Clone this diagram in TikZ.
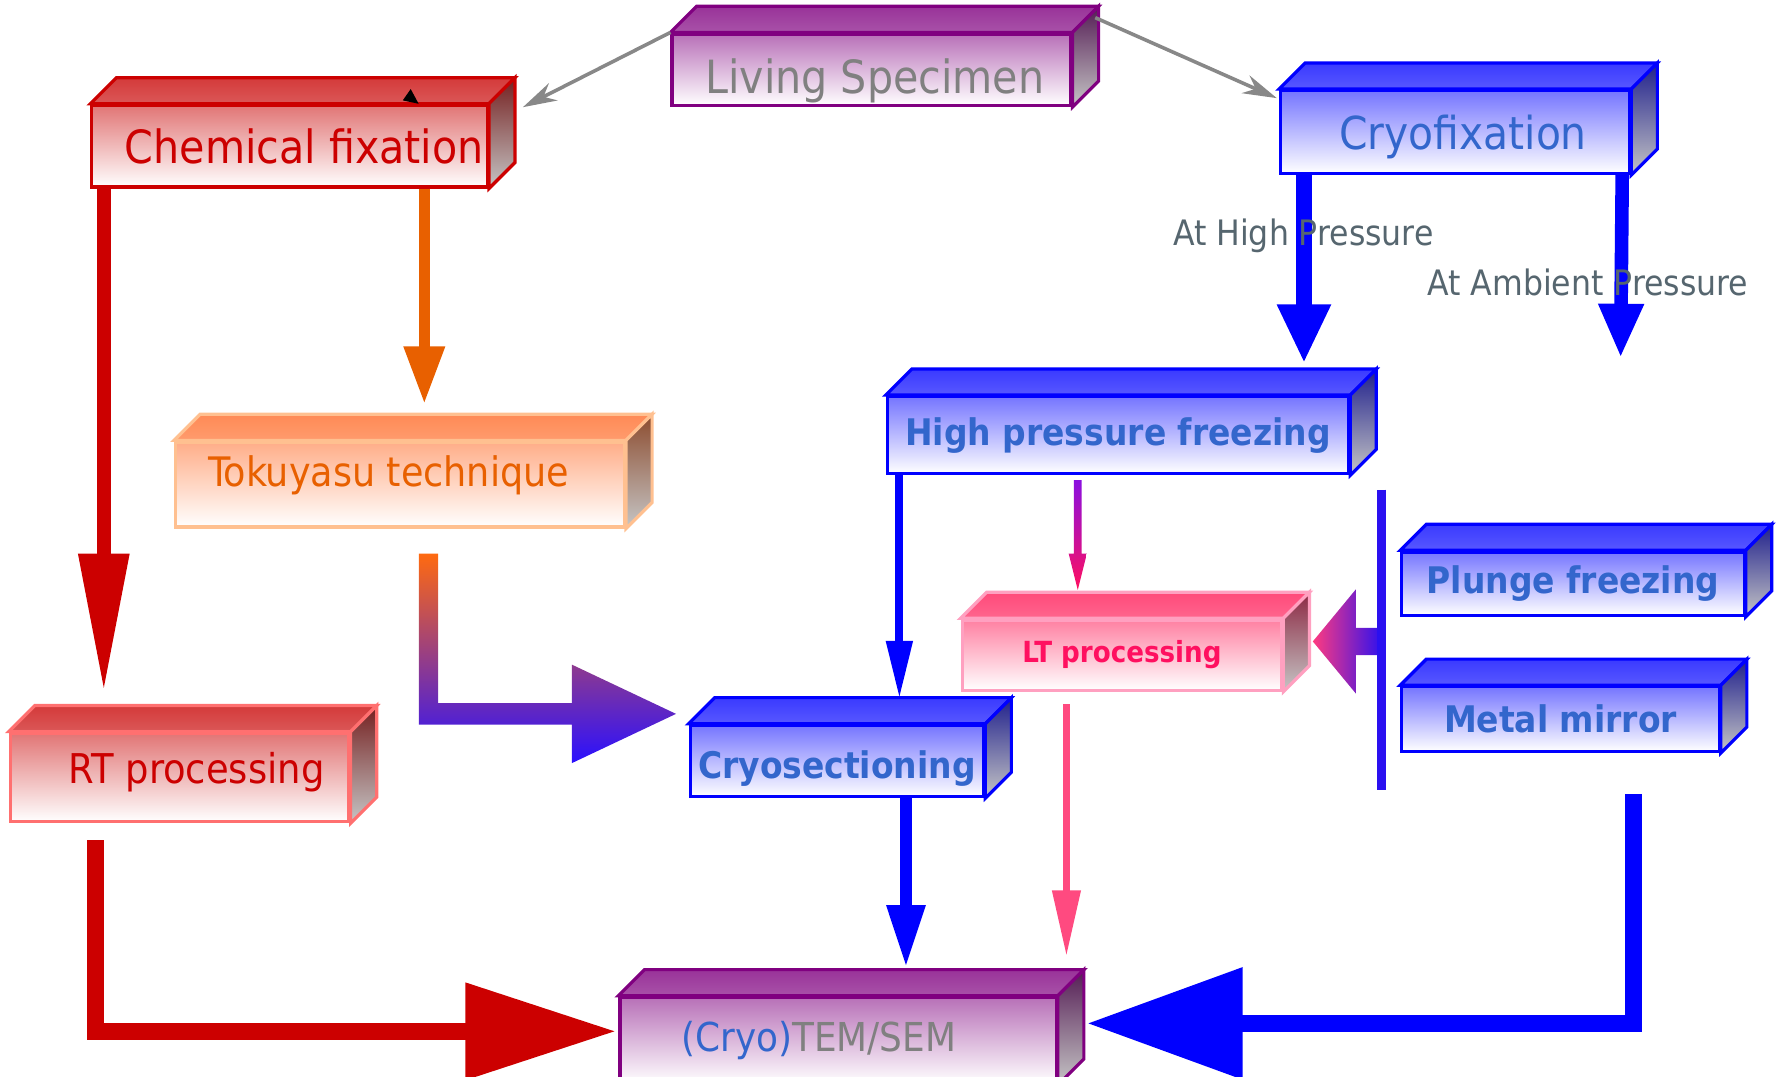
\documentclass[tikz,border=0pt]{standalone}
\usepackage{fontspec}
\setmainfont{DejaVu Sans Condensed}
\usetikzlibrary{arrows.meta}
\definecolor{lspurple}{HTML}{993399}
\definecolor{lsline}{HTML}{800080}
\definecolor{lstext}{HTML}{808080}
\definecolor{chemred}{HTML}{CC0000}
\definecolor{chemface}{HTML}{D43A3A}
\definecolor{rtline}{HTML}{FF7070}
\definecolor{tokuface}{HTML}{FF8A55}
\definecolor{tokuline}{HTML}{FFC090}
\definecolor{tokutext}{HTML}{E86000}
\definecolor{cryoblue}{HTML}{0000FF}
\definecolor{cryoface}{HTML}{3A3AFF}
\definecolor{cryotext}{HTML}{3366CC}
\definecolor{ltface}{HTML}{FF4A7A}
\definecolor{ltline}{HTML}{FFA0C0}
\definecolor{lttext}{HTML}{FF1060}
\definecolor{ltarrow}{HTML}{FF4A80}
\definecolor{linkgray}{HTML}{888888}
\definecolor{labelgray}{HTML}{56666F}
\definecolor{bracketblue}{HTML}{2A10F0}
\definecolor{tokuflow}{HTML}{FF6A10}
\definecolor{midflow}{HTML}{C050B0}
\definecolor{blueflow}{HTML}{2A10FF}
\definecolor{violetflow}{HTML}{8A10E0}
\definecolor{ltflow}{HTML}{FF3A80}
\newcommand{\cubedepth}{0.23}

\begin{document}
\begin{tikzpicture}[
    cuboid/.style 2 args={draw=#2, line width=0.8pt, inner sep=0pt,
        top color=#1!70!white, bottom color=white,
        append after command={\pgfextra{
            \path[draw=#2, line width=0.8pt, top color=#1, bottom color=#1!85!white]
                (\tikzlastnode.north west) -- ++(\cubedepth,\cubedepth)
                -- ([shift={(\cubedepth,\cubedepth)}]\tikzlastnode.north east)
                -- (\tikzlastnode.north east) -- cycle;
            \path[draw=#2, line width=0.8pt, top color=#1!55!black, bottom color=gray!45]
                (\tikzlastnode.north east) -- ++(\cubedepth,\cubedepth)
                -- ([shift={(\cubedepth,\cubedepth)}]\tikzlastnode.south east)
                -- (\tikzlastnode.south east) -- cycle;
        }}},
    lsbox/.style={cuboid={lspurple}{lsline}, text=lstext, font=\fontsize{11.5}{13}\selectfont},
    chembox/.style={cuboid={chemface}{chemred}, text=chemred, font=\fontsize{11.5}{13}\selectfont},
    rtbox/.style={cuboid={chemface}{rtline}, text=chemred, font=\fontsize{10.3}{12}\selectfont},
    tokubox/.style={cuboid={tokuface}{tokuline}, text=tokutext, font=\fontsize{10.2}{12}\selectfont},
    cryobox/.style={cuboid={cryoface}{cryoblue}, text=cryotext, font=\fontsize{9.2}{11}\selectfont\bfseries},
    ltbox/.style={cuboid={ltface}{ltline}, text=lttext, font=\fontsize{7.3}{9}\selectfont\bfseries},
    link/.style={draw=linkgray, line width=0.9pt, -{Stealth[length=0.3cm,width=0.17cm]}},
    pressuretext/.style={text=labelgray, inner sep=0pt, font=\fontsize{8.8}{10}\selectfont}
]
    \useasboundingbox (0,0) rectangle (15.68,-9.50);

    \node[lsbox, minimum width=3.52cm, minimum height=0.63cm] (ls) at (7.69,-0.615)
        {\hspace*{0.06cm}\raisebox{-0.10cm}[\height][\depth]{Living Specimen}};
    \node[chembox, minimum width=3.49cm, minimum height=0.72cm] (chem) at (2.555,-1.29)
        {\hspace*{0.26cm}Chemical fixation};
    \node[cryobox, font=\fontsize{11.4}{13}\selectfont, minimum width=3.08cm, minimum height=0.73cm] (cryo) at (12.84,-1.165)
        {\hspace*{0.14cm}\raisebox{-0.04cm}[\height][\depth]{Cryofixation}};
    \node[tokubox, minimum width=3.96cm, minimum height=0.75cm] (toku) at (3.53,-4.275)
        {\raisebox{0.08cm}[\height][\depth]{Tokuyasu technique}\hspace*{0.20cm}};
    \node[cryobox, minimum width=4.07cm, minimum height=0.68cm] (hpf) at (9.865,-3.84) {High pressure freezing};
    \node[cryobox, minimum width=3.02cm, minimum height=0.56cm] (plunge) at (13.88,-5.15) {Plunge freezing};
    \node[cryobox, minimum width=2.80cm, minimum height=0.57cm] (metal) at (13.77,-6.345) {Metal mirror};
    \node[ltbox, minimum width=2.82cm, minimum height=0.62cm] (lt) at (9.90,-5.78) {LT processing};
    \node[cryobox, minimum width=2.59cm, minimum height=0.63cm] (cryosec) at (7.385,-6.715)
        {\raisebox{-0.07cm}[\height][\depth]{Cryosectioning}};
    \node[rtbox, minimum width=2.99cm, minimum height=0.78cm] (rt) at (1.585,-6.86)
        {\hspace*{0.30cm}\raisebox{0.05cm}[\height][\depth]{RT processing}};
    \node[lsbox, font=\fontsize{10}{12}\selectfont, minimum width=3.85cm, minimum height=0.76cm] (tem) at (7.395,-9.18)
        {\textcolor{cryotext}{(Cryo)}TEM/SEM\hspace*{0.34cm}};

    \coordinate (ambient) at (14.30,-3.16);
    \coordinate (brtop) at (12.19,-4.32);
    \coordinate (brbot) at (12.19,-6.97);

    % from the specimen
    \draw[link] (ls.north west) -- ([xshift=0.30cm,yshift=-0.03cm]chem.north east);
    \draw[link] ([xshift=0.20cm,yshift=0.13cm]ls.north east) -- ([xshift=-0.02cm,yshift=-0.08cm]cryo.north west);
    \fill ([xshift=-0.76cm,yshift=0.03cm]chem.north east) -- ++(0.07,0.10) -- ++(0.07,-0.13) -- cycle;

    % chemical route
    \draw[draw=chemred, line width=0.12cm, -{Triangle[length=1.22cm,width=0.42cm]}]
        ([xshift=0.12cm]chem.south west) -- ([xshift=0.12cm,yshift=0.35cm]chem.south west |- rt.north);
    \draw[draw=tokutext, line width=0.10cm, -{Triangle[length=0.51cm,width=0.34cm]}]
        ([xshift=-0.57cm]chem.south east) -- ([xshift=-0.57cm,yshift=0.32cm]chem.south east |- toku.north);
    \shade[top color=tokuflow, middle color=midflow, bottom color=blueflow]
        ([xshift=0.165cm,yshift=-0.22cm]toku.south) -- ++(0.17,0) -- ++(0,-1.32) -- ++(1.18,0) -- ++(0,0.34)
        -- ++(0.92,-0.435) -- ++(-0.92,-0.435) -- ++(0,0.34) -- ++(-1.35,0) -- cycle;
    \draw[draw=chemred, line width=0.15cm, -{Triangle[length=1.33cm,width=0.82cm]}]
        ([xshift=0.77cm,yshift=-0.15cm]rt.south west) |- ([xshift=-0.02cm,yshift=0.08cm]tem.west);

    % cryo route
    \draw[draw=cryoblue, line width=0.14cm, -{Triangle[length=0.52cm,width=0.44cm]}]
        ([xshift=0.22cm]cryo.south west) -- ([xshift=0.22cm,yshift=0.28cm]cryo.south west |- hpf.north);
    \draw[draw=cryoblue, line width=0.12cm, -{Triangle[length=0.48cm,width=0.37cm]}]
        ([xshift=-0.08cm]cryo.south east) -- (ambient);
    \draw[draw=cryoblue, line width=0.07cm, -{Triangle[length=0.51cm,width=0.22cm]}]
        ([xshift=0.12cm]hpf.south west) -- ([xshift=0.12cm,yshift=0.22cm]hpf.south west |- cryosec.north);
    \shade[top color=violetflow, bottom color=lttext]
        ([xshift=-0.39cm,yshift=0.25cm]lt.north) -- ++(0.08,0.32) -- ++(-0.045,0) -- ++(0,0.65)
        -- ++(-0.07,0) -- ++(0,-0.65) -- ++(-0.045,0) -- cycle;
    \shade[left color=ltflow, right color=bracketblue]
        ([xshift=0.26cm,yshift=0.12cm]lt.east) -- ++(0.38,0.46) -- ++(0,-0.34) -- ++(0.24,0)
        -- ++(0,-0.24) -- ++(-0.24,0) -- ++(0,-0.34) -- cycle;
    \draw[draw=bracketblue, line width=0.08cm] (brtop) -- (brbot);
    \draw[draw=cryoblue, line width=0.10cm, -{Triangle[length=0.55cm,width=0.32cm]}]
        ([xshift=-0.70cm]cryosec.south east) -- ([xshift=-0.70cm,yshift=0.25cm]cryosec.south east |- tem.north);
    \draw[draw=ltarrow, line width=0.06cm, -{Triangle[length=0.58cm,width=0.24cm]}]
        ([xshift=-0.49cm,yshift=-0.11cm]lt.south) -- ([xshift=-0.49cm,yshift=0.35cm]lt.south |- tem.north);
    \draw[draw=cryoblue, line width=0.15cm, -{Triangle[length=1.37cm,width=0.95cm]}]
        ([xshift=-0.77cm,yshift=-0.36cm]metal.south east) |- ([xshift=0.26cm,yshift=0.15cm]tem.east);

    \node[pressuretext] (highp) at (11.50,-2.08) {At High Pressure};
    \node[pressuretext] (ambp) at (14.01,-2.49) {At Ambient Pressure};
\end{tikzpicture}
\end{document}
